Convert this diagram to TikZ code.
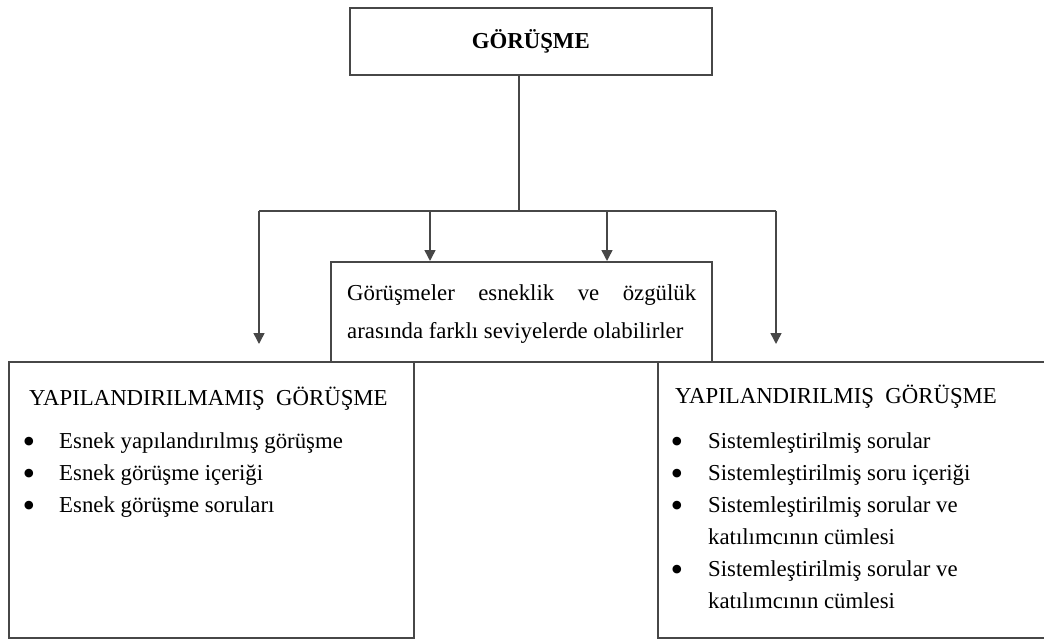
\documentclass[tikz,border=0pt]{standalone}
\usepackage{fontspec}
\setmainfont{Liberation Serif}
\usetikzlibrary{arrows.meta}
\begin{document}
\begin{tikzpicture}[x=1pt,y=-1pt,
  box/.style={draw=black!72, line width=1.6pt, fill=white, rectangle, inner sep=0pt, anchor=north west},
  conn/.style={draw=black!72, line width=1.5pt},
  arr/.style={conn, -{Triangle[width=11pt,length=11pt]}},
  txt/.style={font=\fontsize{22.8}{30}\selectfont, inner sep=0pt},
  line/.style={txt, anchor=base west},
  bul/.style={font=\fontsize{36}{36}\selectfont, inner sep=0pt, anchor=base, yshift=-5pt}
]
\useasboundingbox (0,0) rectangle (1044,639);

% boxes
\node[box, minimum width=362pt, minimum height=67pt, txt] (T) at (349,7) {\bfseries GÖRÜŞME};
\node[box, minimum width=405pt, minimum height=276pt] (L) at (8,361) {};
\node[box, minimum width=392pt, minimum height=276pt] (R) at (657,361) {};
\node[box, minimum width=381pt, minimum height=100pt] (M) at (330,261) {};

% middle text
\node[line] (m1t) at (347,300) {\makebox[349pt][s]{Görüşmeler esneklik ve özgülük}};
\node[line] (m2t) at (347,338) {arasında farklı seviyelerde olabilirler};

% left box text
\node[line] (lh) at (29,405) {YAPILANDIRILMAMIŞ\ \ GÖRÜŞME};
\node[bul] (lb1) at (29,448) {•};
\node[line] (l1) at (59,448) {Esnek yapılandırılmış görüşme};
\node[bul] (lb2) at (29,480) {•};
\node[line] (l2) at (59,480) {Esnek görüşme içeriği};
\node[bul] (lb3) at (29,512) {•};
\node[line] (l3) at (59,512) {Esnek görüşme soruları};

% right box text
\node[line] (rh) at (675,403) {YAPILANDIRILMIŞ\ \ GÖRÜŞME};
\node[bul] (rb1) at (677,448) {•};
\node[line] (r1) at (708,448) {Sistemleştirilmiş sorular};
\node[bul] (rb2) at (677,480) {•};
\node[line] (r2) at (708,480) {Sistemleştirilmiş soru içeriği};
\node[bul] (rb3) at (677,512) {•};
\node[line] (r3) at (708,512) {Sistemleştirilmiş sorular ve};
\node[line] (r3b) at (708,544) {katılımcının cümlesi};
\node[bul] (rb4) at (677,576) {•};
\node[line] (r4) at (708,576) {Sistemleştirilmiş sorular ve};
\node[line] (r4b) at (708,608) {katılımcının cümlesi};

% connectors
\coordinate (hub) at (519,211);
\coordinate (hl) at (259,211);
\coordinate (hr) at (776,211);
\coordinate (tl) at (259,344);
\coordinate (tr) at (776,344);
\coordinate (ma) at (430,211);
\coordinate (mb) at (607,211);

\draw[conn] (T.south -| hub) -- (hub);
\draw[conn] (hl) -- (hr);
\draw[arr] (hl) -- (tl);
\draw[arr] (hr) -- (tr);
\draw[arr] (ma) -- (ma |- M.north);
\draw[arr] (mb) -- (mb |- M.north);
\end{tikzpicture}
\end{document}
